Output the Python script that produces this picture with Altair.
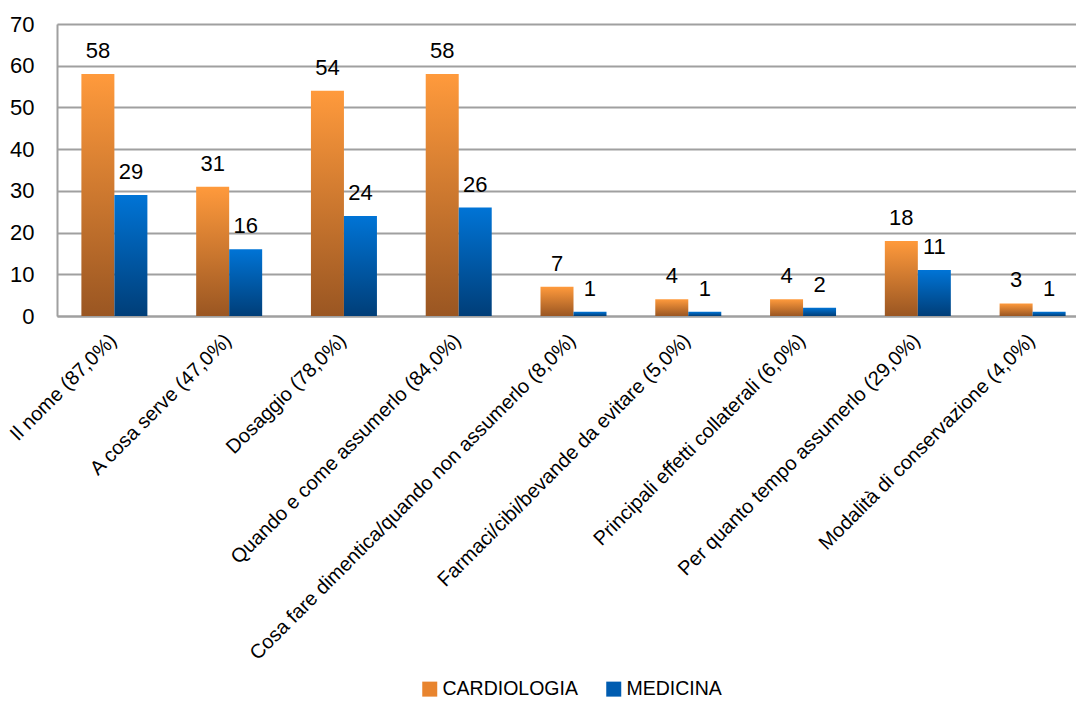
import altair as alt
import pandas as pd

categories = [
    "Il nome (87,0%)",
    "A cosa serve (47,0%)",
    "Dosaggio (78,0%)",
    "Quando e come assumerlo (84,0%)",
    "Cosa fare dimentica/quando non assumerlo (8,0%)",
    "Farmaci/cibi/bevande da evitare (5,0%)",
    "Principali effetti collaterali (6,0%)",
    "Per quanto tempo assumerlo (29,0%)",
    "Modalità di conservazione (4,0%)",
]
series = ["CARDIOLOGIA", "MEDICINA"]
cardiologia = [58, 31, 54, 58, 7, 4, 4, 18, 3]
medicina = [29, 16, 24, 26, 1, 1, 2, 11, 1]

rows = []
for c, a, b in zip(categories, cardiologia, medicina):
    rows.append({"cat": c, "series": series[0], "value": a})
    rows.append({"cat": c, "series": series[1], "value": b})
df = pd.DataFrame(rows)

FONT = "Liberation Sans"
GRID = "#A0A0A0"

x_enc = alt.X(
    "cat:N",
    sort=categories,
    title=None,
    scale=alt.Scale(paddingInner=0.425, paddingOuter=0.2125, range=[0, 1033]),
    axis=alt.Axis(
        labelAngle=-45,
        labelAlign="right",
        labelBaseline="top",
        labelFontSize=20,
        labelFont=FONT,
        labelColor="#000000",
        labelLimit=800,
        labelPadding=14,
        labelOffset=-8,
        labelOverlap=False,
        ticks=False,
        domainColor=GRID,
        domainWidth=2,
        grid=False,
    ),
)
xoff = alt.XOffset("series:N", scale=alt.Scale(domain=series, paddingInner=0, paddingOuter=0))
y_enc = alt.Y(
    "value:Q",
    title=None,
    scale=alt.Scale(domain=[0, 70]),
    axis=alt.Axis(
        values=[0, 10, 20, 30, 40, 50, 60, 70],
        labelFontSize=22,
        labelFont=FONT,
        labelColor="#000000",
        labelPadding=23,
        ticks=False,
        domainColor=GRID,
        domainWidth=2,
        gridColor=GRID,
        gridWidth=2,
    ),
)

base = alt.Chart(df)

orange_grad = alt.Gradient(
    gradient="linear",
    stops=[alt.GradientStop(color="#FF9A3C", offset=0), alt.GradientStop(color="#9A5622", offset=1)],
    x1=0, x2=0, y1=0, y2=1,
)
blue_grad = alt.Gradient(
    gradient="linear",
    stops=[alt.GradientStop(color="#0074D6", offset=0), alt.GradientStop(color="#003E78", offset=1)],
    x1=0, x2=0, y1=0, y2=1,
)

bars_c = base.transform_filter(alt.datum.series == series[0]).mark_bar(
    color=orange_grad
).encode(x=x_enc, xOffset=xoff, y=y_enc)
bars_m = base.transform_filter(alt.datum.series == series[1]).mark_bar(
    color=blue_grad
).encode(x=x_enc, xOffset=xoff, y=y_enc)

legend_layer = base.mark_bar().encode(
    x=x_enc,
    xOffset=xoff,
    y=alt.datum(0),
    color=alt.Color(
        "series:N",
        scale=alt.Scale(domain=series, range=["#E8842E", "#005CB0"]),
        legend=alt.Legend(
            orient="none",
            legendX=363,
            legendY=655,
            direction="horizontal",
            title=None,
            symbolType="square",
            symbolSize=225,
            symbolStrokeWidth=0,
            labelFontSize=19.5,
            labelFont=FONT,
            labelColor="#000000",
            labelOffset=3,
            columnPadding=26,
        ),
    ),
)

labels = base.mark_text(
    baseline="alphabetic", dy=-16, fontSize=22, font=FONT, color="#000000"
).encode(x=x_enc, xOffset=xoff, y=y_enc, text="value:Q")

chart = alt.layer(bars_c, bars_m, legend_layer, labels).properties(
    width=1019, height=292,
    autosize=alt.AutoSizeParams(type="none"),
    padding={"left": 57, "top": 24, "right": 0, "bottom": 386},
).configure_view(stroke=None).configure(background="white")

chart.save("out.html", embed_options={"renderer": "svg", "actions": False})
